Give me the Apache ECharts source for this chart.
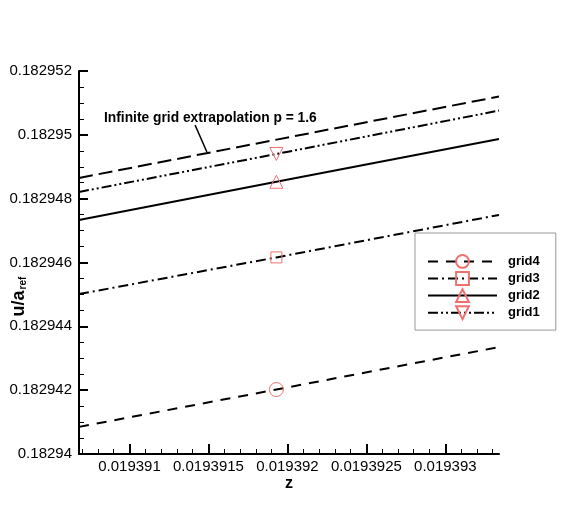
<!DOCTYPE html>
<html>
<head>
<meta charset="utf-8">
<script src="https://cdn.jsdelivr.net/npm/echarts@6/dist/echarts.min.js"></script>
<style>
html,body{margin:0;padding:0;background:#fff;}
#chart{width:565px;height:508px;}
</style>
</head>
<body>
<div id="chart"></div>
<script>
// ---- data ----
const seriesNames = ['grid4', 'grid3', 'grid2', 'grid1'];
const zEnds = [0.01939068, 0.01939334];
const zMarker = 0.01939193;
const grid4 = [0.18294085, 0.18294202, 0.18294335];
const grid3 = [0.18294501, 0.18294616, 0.18294749];
const grid2 = [0.18294733, 0.18294853, 0.18294987];
const grid1 = [0.18294821, 0.18294940, 0.18295076];
const extrap = [0.18294865, 0.18295120];
const zTickLabels = [0.019391, 0.0193915, 0.019392, 0.0193925, 0.019393];
const yTickLabels = [0.18294, 0.182942, 0.182944, 0.182946, 0.182948, 0.18295, 0.182952];
const annotationText = 'Infinite grid extrapolation p = 1.6';
const leaderZ = [0.019391415, 0.01939149];
const leaderY = [0.18295031, 0.18294946];

// minor ticks on z (every 1e-7 between axis ends, majors excluded)
const zMinor = [];
for (let k = 193907; k <= 193933; k++) {
  if (k % 5 !== 0) zMinor.push(k / 1e7);
}

const FONT = 'Liberation Sans, Arial, Helvetica, sans-serif';
const RED = '#f07070';

function lineData(vals) {
  return [
    { value: [zEnds[0], vals[0]], symbol: 'none' },
    { value: [zMarker, vals[1]] },
    { value: [zEnds[1], vals[2]], symbol: 'none' }
  ];
}

const styles = {
  grid4: { type: [10, 8], symbol: 'circle', size: 14, rotate: 0 },
  grid3: { type: [10, 4, 2, 4], symbol: 'rect', size: 11, rotate: 0 },
  grid2: { type: 'solid', symbol: 'triangle', size: 13, rotate: 0 },
  grid1: { type: [10, 3, 2, 3, 2, 3], symbol: 'triangle', size: 13, rotate: 180 }
};
const values = { grid4, grid3, grid2, grid1 };

const series = seriesNames.map(n => ({
  name: n,
  type: 'line',
  xAxisIndex: 0,
  yAxisIndex: 0,
  data: lineData(values[n]),
  symbol: styles[n].symbol,
  symbolSize: styles[n].size,
  symbolRotate: styles[n].rotate,
  showSymbol: true,
  lineStyle: { color: '#000', width: 2, type: styles[n].type },
  itemStyle: { color: 'rgba(255,255,255,0)', borderColor: RED, borderWidth: 1 },
  emphasis: { disabled: true },
  animation: false,
  z: 3
}));

series.push({
  name: 'extrapolation',
  type: 'line',
  data: [[zEnds[0], extrap[0]], [zEnds[1], extrap[1]]],
  symbol: 'none',
  lineStyle: { color: '#000', width: 2, type: [14, 6] },
  emphasis: { disabled: true },
  animation: false,
  markLine: {
    silent: true,
    symbol: ['none', 'none'],
    animation: false,
    label: { show: false },
    lineStyle: { color: '#000', width: 1.5, type: 'solid' },
    data: [[{ coord: [leaderZ[0], leaderY[0]] }, { coord: [leaderZ[1], leaderY[1]] }]]
  }
});

const chart = echarts.init(document.getElementById('chart'), null, { renderer: 'canvas' });
chart.setOption({
  animation: false,
  backgroundColor: '#fff',
  grid: { left: 79, right: 66, top: 71, bottom: 54, containLabel: false, outerBoundsMode: 'none' },
  legend: {
    data: seriesNames,
    orient: 'vertical',
    left: 415,
    top: 233,
    padding: [21, 16, 10, 12],
    itemWidth: 69,
    itemHeight: 16,
    itemGap: 2.3,
    borderColor: '#999',
    borderWidth: 1,
    textStyle: { fontFamily: FONT, fontSize: 13, fontWeight: 'bold', color: '#000', padding: [0, 0, 0, 6] },
    selectedMode: false
  },
  xAxis: [{
    type: 'value',
    min: zEnds[0],
    max: zEnds[1],
    name: 'z',
    nameLocation: 'middle',
    nameGap: 22,
    nameMoveOverlap: false,
    nameTextStyle: { fontFamily: FONT, fontSize: 16, fontWeight: 'bold', color: '#000' },
    axisLine: { show: true, onZero: false, lineStyle: { color: '#000', width: 2 } },
    axisTick: { show: true, inside: true, length: 10, customValues: zTickLabels, lineStyle: { color: '#000', width: 2 } },
    axisLabel: {
      show: true, customValues: zTickLabels, margin: 5,
      fontFamily: FONT, fontSize: 15, color: '#000',
      formatter: v => String(+(+v).toFixed(8))
    },
    splitLine: { show: false }
  }, {
    type: 'value',
    min: zEnds[0],
    max: zEnds[1],
    position: 'bottom',
    axisLine: { show: false, onZero: false },
    axisTick: { show: true, inside: true, length: 5, customValues: zMinor, lineStyle: { color: '#000', width: 1 } },
    axisLabel: { show: false },
    splitLine: { show: false }
  }],
  yAxis: {
    type: 'value',
    min: yTickLabels[0],
    max: yTickLabels[yTickLabels.length - 1],
    interval: 0.000002,
    name: '{a|u/a}{b|ref}',
    nameLocation: 'middle',
    nameRotate: 90,
    nameGap: 51,
    nameMoveOverlap: false,
    nameTextStyle: {
      padding: [0, 68, 0, 0],
      rich: {
        a: { fontFamily: FONT, fontSize: 18, fontWeight: 'bold', color: '#000', lineHeight: 20, verticalAlign: 'bottom' },
        b: { fontFamily: FONT, fontSize: 10, fontWeight: 'bold', color: '#000', lineHeight: 20, verticalAlign: 'bottom', padding: [12, 0, 0, 1] }
      }
    },
    axisLine: { show: true, onZero: false, lineStyle: { color: '#000', width: 2 } },
    axisTick: { show: true, inside: true, length: 9, lineStyle: { color: '#000', width: 2 } },
    minorTick: { show: true, splitNumber: 4, length: 5, lineStyle: { color: '#000', width: 1 } },
    axisLabel: { margin: 7, fontFamily: FONT, fontSize: 15, color: '#000' },
    splitLine: { show: false }
  },
  graphic: [{
    type: 'text',
    left: 104,
    top: 111,
    silent: true,
    style: { text: annotationText, font: 'bold 13.8px ' + FONT, fill: '#000' }
  }],
  series: series
});
</script>
</body>
</html>
